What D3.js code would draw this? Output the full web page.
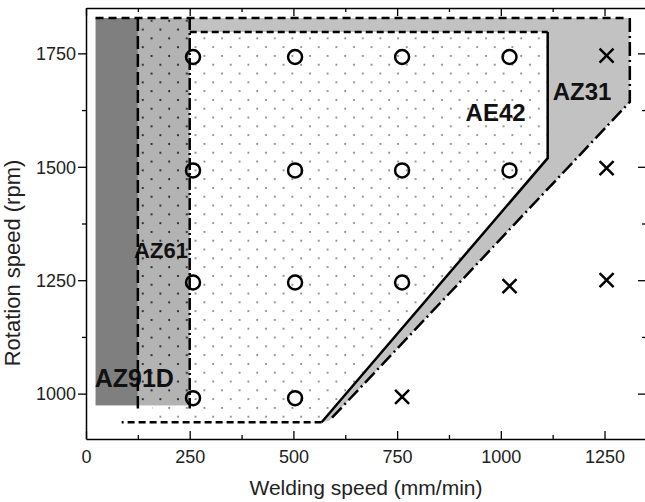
<!DOCTYPE html>
<html>
<head>
<meta charset="utf-8">
<script src="https://cdn.jsdelivr.net/npm/d3@7/dist/d3.min.js"></script>
<style>
  body { margin: 0; background: #fff; }
  svg { display: block; font-family: "Liberation Sans", Arial, sans-serif; }
</style>
</head>
<body>
<div id="chart"><svg></svg></div>
<script>
// welding trials: [welding speed mm/min, rotation speed rpm]
const soundWelds = [
  [258, 1742], [504, 1742], [762, 1742], [1021, 1742],
  [258, 1492], [504, 1492], [762, 1492], [1021, 1492],
  [258, 1245], [504, 1245], [762, 1245],
  [258, 990], [504, 990]
];
const defectWelds = [
  [1255, 1745], [1255, 1497], [1255, 1250], [1021, 1237], [762, 993]
];

// process windows of each alloy
const az91dWindow = [[23, 974], [125, 1828]];
const az61Window = [[125, 974], [250, 1828]];
const ae42Window = [[250, 1797], [1113, 1797], [1113, 1519], [568, 937], [160, 937], [160, 1797]];
const az31Window = [[250, 1828], [1311, 1828], [1311, 1643], [587, 941], [568, 937], [250, 937]];

// boundary lines
const az31Top = [[23, 1828], [1305, 1828]];
const az31Edge = [[1311, 1828], [1311, 1643], [587, 941]];
const az61Left = [[125, 1828], [125, 967]];
const az61Right = [[250, 1828], [250, 967]];
const ae42Dashed = [[250, 1797], [1113, 1797]];
const ae42Solid = [[1113, 1797], [1113, 1519], [568, 937]];
const ae42Bottom = [[568, 937], [86, 937]];

const regionLabels = ["AZ91D", "AZ61", "AE42", "AZ31"];
const labelPos = [[21, 1014], [116, 1298], [915, 1601], [1125, 1647]];
const labelSize = [25, 22, 24, 24];

const xTicks = [0, 125, 250, 375, 500, 625, 750, 875, 1000, 1125, 1250];
const yTicks = [1000, 1125, 1250, 1375, 1500, 1625, 1750];

const margin = { top: 8, right: -1, bottom: 63, left: 86 };
const svgSize = { width: 645, height: 502 };
const graphSize = { width: 560, height: 431 };

const x = d3.scaleLinear().domain([0, 1350]).range([0, graphSize.width]);
const y = d3.scaleLinear().domain([900, 1850]).range([graphSize.height, 0]);

const svg = d3.select("#chart svg")
  .attr("width", svgSize.width)
  .attr("height", svgSize.height);

// dot patterns
const defs = svg.append("defs");
function dotPattern(id, color, r) {
  const p = defs.append("pattern")
    .attr("id", id)
    .attr("patternUnits", "userSpaceOnUse")
    .attr("width", 17.6).attr("height", 17.6);
  p.append("circle").attr("cx", 4).attr("cy", 4).attr("r", r).attr("fill", color);
  p.append("circle").attr("cx", 12.8).attr("cy", 12.8).attr("r", r).attr("fill", color);
}
dotPattern("ae42dots", "#777", 1);
dotPattern("az61dots", "#1a1a1a", 1.1);

const g = svg.append("g")
  .attr("transform", "translate(" + margin.left + "," + margin.top + ")");

const line = d3.line().x(d => x(d[0])).y(d => y(d[1]));
const area = d3.line().x(d => x(d[0])).y(d => y(d[1])).curve(d3.curveLinearClosed);

// regions
g.append("path").datum(az31Window).attr("d", area).attr("fill", "#c2c2c2");
g.append("path").datum(ae42Window).attr("d", area).attr("fill", "#fff");
g.append("path").datum(ae42Window).attr("d", area).attr("fill", "url(#ae42dots)");

function rect(win, fill) {
  return g.append("rect")
    .attr("x", x(win[0][0]))
    .attr("y", y(win[1][1]))
    .attr("width", x(win[1][0]) - x(win[0][0]))
    .attr("height", y(win[0][1]) - y(win[1][1]))
    .attr("fill", fill);
}
rect(az61Window, "#b3b3b3");
rect(az61Window, "url(#az61dots)");
rect(az91dWindow, "#7f7f7f");

// region labels
g.selectAll(".lab").data(regionLabels).enter().append("text")
  .attr("class", "lab")
  .attr("x", (d, i) => x(labelPos[i][0]))
  .attr("y", (d, i) => y(labelPos[i][1]))
  .attr("font-size", (d, i) => labelSize[i])
  .attr("font-weight", "bold")
  .attr("fill", "#111")
  .text(d => d);

// boundaries
function boundary(data, dash) {
  g.append("path").datum(data)
    .attr("d", line)
    .attr("fill", "none")
    .attr("stroke", "#000")
    .attr("stroke-width", 2.5)
    .attr("stroke-dasharray", dash);
}
boundary(az31Top, "8,5");
boundary(az31Edge, "14,4,2,4");
boundary(az61Left, "13,5");
boundary(az61Right, "12,3,2,3");
boundary(ae42Dashed, "7,4");
boundary(ae42Solid, null);
boundary(ae42Bottom, "7,4");

// markers
g.selectAll(".ok").data(soundWelds).enter().append("circle")
  .attr("class", "ok")
  .attr("cx", d => x(d[0]))
  .attr("cy", d => y(d[1]))
  .attr("r", 7)
  .attr("fill", "none")
  .attr("stroke", "#000")
  .attr("stroke-width", 2.5);

g.selectAll(".bad").data(defectWelds).enter().append("path")
  .attr("class", "bad")
  .attr("transform", d => "translate(" + x(d[0]) + "," + y(d[1]) + ")")
  .attr("d", "M-7,-7L7,7M-7,7L7,-7")
  .attr("stroke", "#000")
  .attr("stroke-width", 2.5);

// axes
const tickLen = d => (d % 250 === 0 ? 8 : 4);
function axisBox(axis, transform, values, labels, inward) {
  const a = g.append("g").attr("transform", transform)
    .call(axis.tickValues(values).tickSize(0).tickFormat(labels ? (d => d % 250 === 0 ? d : "") : ""));
  a.select(".domain").attr("stroke", "#000").attr("stroke-width", 1.5);
  a.selectAll(".tick line").each(function (d) {
    const s = tickLen(d) * inward;
    const el = d3.select(this).attr("stroke", "#000").attr("stroke-width", 1.3);
    if (axis.orient === "h") el.attr("y2", s); else el.attr("x2", s);
  });
  a.selectAll("text").attr("font-size", 18).attr("fill", "#222");
  return a;
}
let ax = d3.axisBottom(x); ax.orient = "h";
const bottomAxis = axisBox(ax, "translate(0," + graphSize.height + ")", xTicks, true, -1);
bottomAxis.selectAll("text").attr("dy", "1.15em");
ax = d3.axisTop(x); ax.orient = "h";
axisBox(ax, "translate(0,0)", xTicks, false, 1);
ax = d3.axisLeft(y); ax.orient = "v";
const leftAxis = axisBox(ax, "translate(0,0)", yTicks, true, -1);
leftAxis.selectAll("text").attr("x", -10).attr("dy", "0.35em");
ax = d3.axisRight(y); ax.orient = "v";
axisBox(ax, "translate(" + graphSize.width + ",0)", yTicks, false, -1);

// axis titles
g.append("text")
  .attr("x", x(675)).attr("y", graphSize.height + 56)
  .attr("text-anchor", "middle")
  .attr("font-size", 21)
  .attr("fill", "#222")
  .text("Welding speed (mm/min)");
g.append("text")
  .attr("transform", "translate(-66,255) rotate(-90)")
  .attr("text-anchor", "middle")
  .attr("font-size", 22)
  .attr("fill", "#222")
  .text("Rotation speed (rpm)");
</script>
</body>
</html>
